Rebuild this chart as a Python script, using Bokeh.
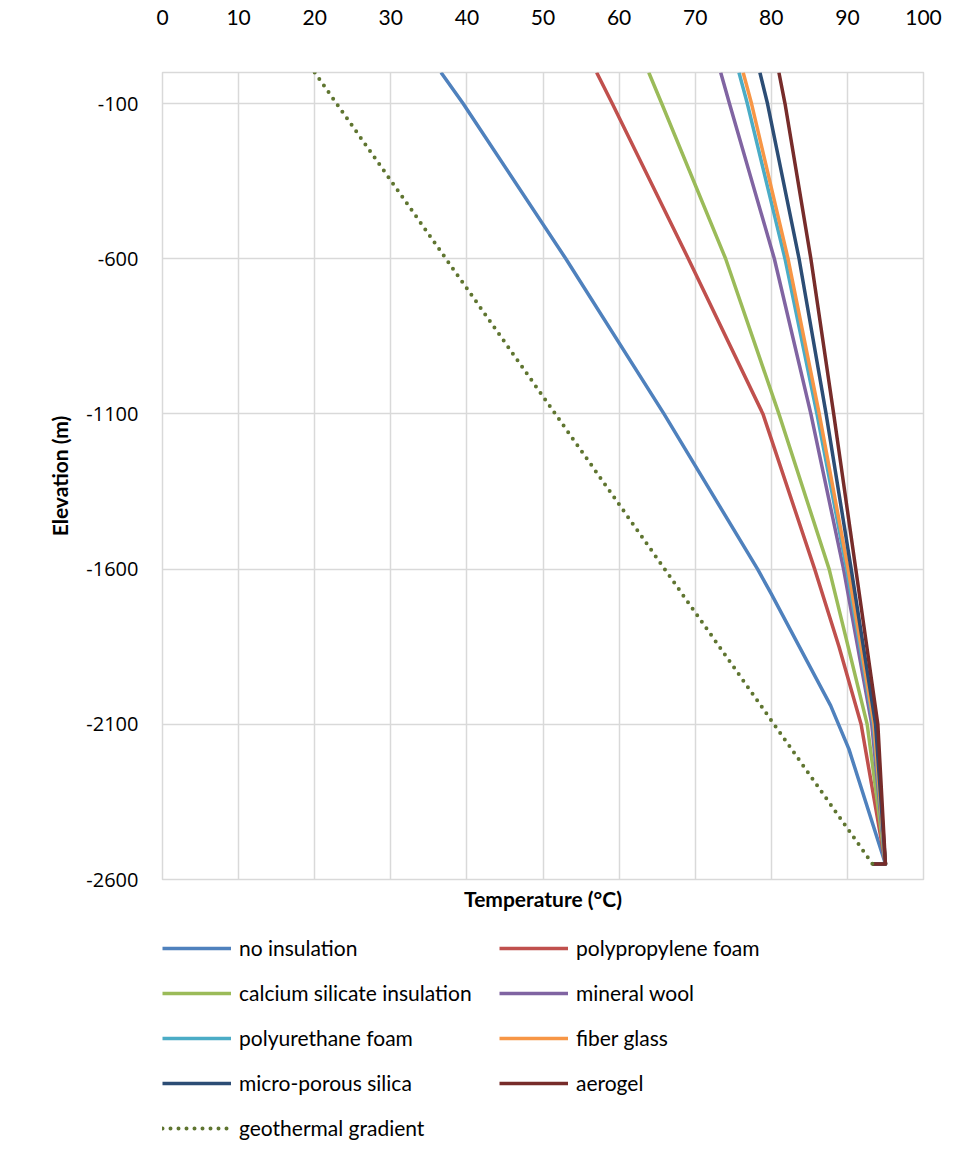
from bokeh.plotting import figure
from bokeh.models import Range1d, FixedTicker, Legend, LegendItem, Title
from bokeh.layouts import column
from bokeh.embed import file_html
from bokeh.resources import INLINE

# ---------------- data ----------------
x_ticks = [0, 10, 20, 30, 40, 50, 60, 70, 80, 90, 100]
y_ticks = [-2600, -2100, -1600, -1100, -600, -100]
y_tick_labels = ["-2600", "-2100", "-1600", "-1100", "-600", "-100"]

names = ["no insulation", "polypropylene foam", "calcium silicate insulation",
         "mineral wool", "polyurethane foam", "fiber glass",
         "micro-porous silica", "aerogel"]

elev_blue = [0, -100, -600, -1100, -1600, -1680, -2040, -2180, -2550, -2550]
temp_blue = [36.6, 39.5, 53.0, 65.9, 78.2, 80.0, 87.8, 90.2, 95.0, 93.3]

elev_red = [0, -100, -600, -1100, -1600, -1850, -2100, -2550, -2550]
temp_red = [57.05, 59.1, 69.1, 78.9, 85.7, 88.9, 91.8, 95.0, 93.3]

elev_ins = [0, -100, -600, -1100, -1600, -2100, -2550, -2550]
temp_green = [63.9, 65.6, 74.0, 81.0, 87.6, 92.6, 95.0, 93.3]
temp_purple = [73.35, 74.5, 80.4, 85.2, 89.5, 93.2, 95.0, 93.3]
temp_cyan = [75.75, 76.85, 81.8, 86.0, 89.9, 93.4, 95.0, 93.3]
temp_orange = [76.3, 77.4, 82.2, 86.3, 90.1, 93.5, 95.0, 93.3]
temp_navy = [78.5, 79.5, 83.65, 87.2, 90.5, 93.7, 95.0, 93.3]
temp_aerogel = [81.0, 81.8, 85.2, 88.2, 91.1, 94.0, 95.0, 93.3]

geo_name = "geothermal gradient"
elev_geo = [0, -2550]
temp_geo = [20.0, 93.3]

colors = ["#4F81BD", "#C0504D", "#9BBB59", "#8064A2", "#4BACC6", "#F79646",
          "#2C4D75", "#772C2A"]
geo_color = "#5F7530"

series = [
    (temp_blue, elev_blue), (temp_red, elev_red), (temp_green, elev_ins),
    (temp_purple, elev_ins), (temp_cyan, elev_ins), (temp_orange, elev_ins),
    (temp_navy, elev_ins), (temp_aerogel, elev_ins),
]

FONT = "Lato"
TEXT = "#000000"
GRID = "#D9D9D9"

# ---------------- main chart ----------------
p = figure(width=957, height=920, x_range=Range1d(0, 100),
           y_range=Range1d(-2600, 0),
           output_backend="svg", toolbar_location=None, x_axis_location="above",
           min_border_left=162, min_border_right=34, min_border_top=72,
           min_border_bottom=41)
p.outline_line_color = GRID
p.outline_line_width = 1.5
p.background_fill_color = "white"
p.border_fill_color = "white"

xt = FixedTicker(ticks=x_ticks)
yt = FixedTicker(ticks=y_ticks)
p.xaxis.ticker = xt
p.yaxis.ticker = yt
p.xgrid.ticker = xt
p.ygrid.ticker = yt
for g in (p.xgrid, p.ygrid):
    g.grid_line_color = GRID
    g.grid_line_width = 1.5

p.yaxis.major_label_overrides = {t: l for t, l in zip(y_ticks, y_tick_labels)}
for ax in (p.xaxis, p.yaxis):
    ax.axis_line_color = None
    ax.major_tick_line_color = None
    ax.minor_tick_line_color = None
    ax.major_tick_out = 0
    ax.major_label_text_color = TEXT

p.xaxis.major_label_text_font = FONT
p.xaxis.major_label_text_font_size = "21px"
p.xaxis.major_label_standoff = 48

p.yaxis.major_label_text_font = "Open Sans"
p.yaxis.major_label_text_font_size = "20px"
p.yaxis.major_label_standoff = 24
p.yaxis.axis_label = "Elevation (m)"
p.yaxis.axis_label_text_font = FONT
p.yaxis.axis_label_text_font_size = "21px"
p.yaxis.axis_label_text_font_style = "bold"
p.yaxis.axis_label_text_color = TEXT
p.yaxis.axis_label_standoff = 11

line_styles = [dict(line_color=c, line_width=3.5, line_join="round") for c in colors]
geo_style = dict(line_color=geo_color, line_width=4, line_dash="0 8", line_cap="round")

for st, (t, e) in zip(line_styles, series):
    p.line(t, e, **st)
p.line(temp_geo, elev_geo, **geo_style)

title = Title(text="Temperature (°C)", align="center", text_font=FONT,
              text_font_size="21px", text_font_style="bold", text_color=TEXT,
              standoff=9)
p.add_layout(title, "below")

# ---------------- legend panel (keys only) ----------------
lg = figure(width=957, height=237, x_range=Range1d(0, 1), y_range=Range1d(0, 1),
            output_backend="svg", toolbar_location=None,
            x_axis_type=None, y_axis_type=None,
            min_border_left=0, min_border_right=0, min_border_top=0,
            min_border_bottom=0)
lg.outline_line_color = None
lg.grid.visible = False
lg.background_fill_color = "white"
lg.border_fill_color = "white"

nan = float("nan")
items = []
for name, st in zip(names, line_styles):
    r = lg.line([nan], [nan], **st)
    items.append(LegendItem(label=name, renderers=[r]))
rg = lg.line([nan], [nan], **geo_style)
items.append(LegendItem(label=geo_name, renderers=[rg]))

legend = Legend(items=items, orientation="horizontal", ncols=2, location=(0, 17),
                label_text_font=FONT, label_text_font_size="21px",
                label_text_color=TEXT, glyph_width=69, glyph_height=20,
                label_height=20, label_width=240, label_standoff=8, spacing=20,
                padding=5, margin=0, border_line_color=None,
                background_fill_alpha=0)
lg.add_layout(legend, "center")

layout = column(p, lg, spacing=0)
open("out.html", "w").write(file_html(layout, INLINE))
